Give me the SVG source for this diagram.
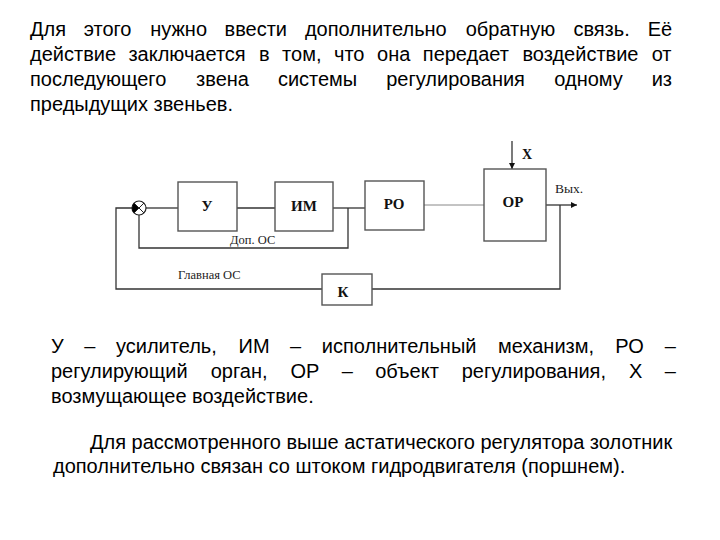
<svg xmlns="http://www.w3.org/2000/svg" width="720" height="540" viewBox="0 0 720 540">
<style>
.t{font-family:"Liberation Sans",Arial,sans-serif;font-size:20px;fill:#000}
.lb{font-family:"Liberation Serif","Times New Roman",serif;font-size:15px;font-weight:bold;fill:#111;text-anchor:middle}
.sm{font-family:"Liberation Serif","Times New Roman",serif;font-size:12.5px;fill:#222}
.box{fill:#fff;stroke:#555;stroke-width:1.4}
.ln{fill:none;stroke:#333;stroke-width:1.3}
.thin{fill:none;stroke:#888;stroke-width:1}
</style>
<defs>
<marker id="arr" viewBox="0 0 10 10" refX="10" refY="5" markerWidth="8" markerHeight="6" markerUnits="userSpaceOnUse" orient="auto">
<path d="M0,0 L10,5 L0,10 z" fill="#111"/>
</marker>
</defs>

<g id="text-top" class="t">
<text y="36"><tspan x="30">Для</tspan><tspan x="83.7">этого</tspan><tspan x="150.2">нужно</tspan><tspan x="224.5">ввести</tspan><tspan x="304.9">дополнительно</tspan><tspan x="465.7">обратную</tspan><tspan x="573.4">связь.</tspan><tspan x="647.7">Её</tspan></text>
<text y="61"><tspan x="30">действие</tspan><tspan x="128.4">заключается</tspan><tspan x="259.1">в</tspan><tspan x="282.1">том,</tspan><tspan x="334">что</tspan><tspan x="377.1">она</tspan><tspan x="422.8">передает</tspan><tspan x="522.4">воздействие</tspan><tspan x="651.7">от</tspan></text>
<text y="86"><tspan x="30">последующего</tspan><tspan x="196.1">звена</tspan><tspan x="277.9">системы</tspan><tspan x="386.2">регулирования</tspan><tspan x="554.3">одному</tspan><tspan x="651.7">из</tspan></text>
<text y="111" x="30">предыдущих звеньев.</text>
</g>

<g id="connectors">
<polyline class="ln" points="322,289 116,289 116,208 132,208"/>
<line class="ln" x1="146" y1="208" x2="178" y2="208"/>
<line class="ln" x1="237" y1="208" x2="275" y2="208"/>
<line class="ln" x1="333" y1="208" x2="365" y2="208"/>
<polyline class="ln" points="348,208 348,248 139,248 139,215"/>
<line class="thin" x1="424" y1="205" x2="484" y2="205"/>
<line class="ln" x1="546" y1="205" x2="577" y2="205" marker-end="url(#arr)"/>
<polyline class="ln" points="560,205 560,289 372,289"/>
<line class="ln" x1="512" y1="141" x2="512" y2="169" marker-end="url(#arr)"/>
</g>

<g id="sum">
<circle cx="139" cy="208" r="7" fill="#fff" stroke="#222" stroke-width="1.2"/>
<path d="M139,208 L134.05,203.05 A7,7 0 0,0 134.05,212.95 Z" fill="#000"/>
<path d="M134.05,203.05 L143.95,212.95 M134.05,212.95 L143.95,203.05" stroke="#222" stroke-width="1"/>
</g>

<g id="node-U"><rect class="box" x="178" y="182" width="59" height="49"/><text class="lb" x="207" y="211">У</text></g>
<g id="node-IM"><rect class="box" x="275" y="182" width="58" height="49"/><text class="lb" x="304" y="211">ИМ</text></g>
<g id="node-RO"><rect class="box" x="365" y="181" width="59" height="49"/><text class="lb" x="394" y="209">РО</text></g>
<g id="node-OR"><rect class="box" x="484" y="169" width="62" height="72"/><text class="lb" x="513" y="206.5">ОР</text></g>
<g id="node-K"><rect class="box" x="322" y="274" width="50" height="31"/><text class="lb" x="343" y="297">К</text></g>

<g id="labels">
<text class="lb" x="527" y="159" style="font-size:14px">X</text>
<text class="sm" x="555" y="193" style="font-size:13.5px">Вых.</text>
<text class="sm" x="230" y="244">Доп. ОС</text>
<text class="sm" x="178" y="279">Главная ОС</text>
</g>

<g id="text-bottom" class="t">
<text y="353"><tspan x="51">У</tspan><tspan x="84.3">–</tspan><tspan x="116">усилитель,</tspan><tspan x="238.5">ИМ</tspan><tspan x="290.1">–</tspan><tspan x="321.8">исполнительный</tspan><tspan x="498">механизм,</tspan><tspan x="615.3">РО</tspan><tspan x="664.8">–</tspan></text>
<text y="378"><tspan x="51">регулирующий</tspan><tspan x="210.7">орган,</tspan><tspan x="290.4">ОР</tspan><tspan x="341.7">–</tspan><tspan x="375.2">объект</tspan><tspan x="461.7">регулирования,</tspan><tspan x="629.1">Х</tspan><tspan x="664.8">–</tspan></text>
<text y="403" x="51">возмущающее воздействие.</text>
<text y="449" x="90">Для рассмотренного выше астатического регулятора золотник</text>
<text y="473" x="53">дополнительно связан со штоком гидродвигателя (поршнем).</text>
</g>
</svg>
